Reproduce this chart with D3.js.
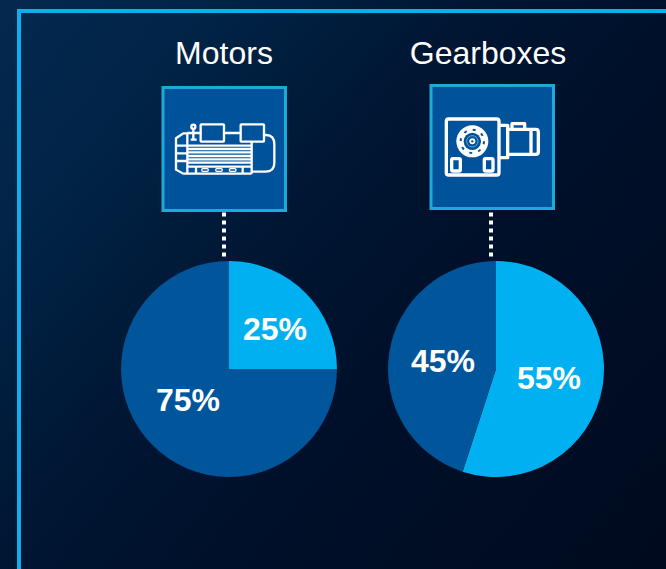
<!DOCTYPE html>
<html>
<head>
<meta charset="utf-8">
<script src="https://cdn.jsdelivr.net/npm/d3@7"></script>
<style>
html,body{margin:0;padding:0;background:#000c20;overflow:hidden}
svg{display:block}
text{font-family:"Liberation Sans",Arial,sans-serif;fill:#fff}
</style>
</head>
<body>
<svg id="c" width="666" height="569"></svg>
<script>
// Data
const titles = ["Motors", "Gearboxes"];
const motorsValues = [25, 75];
const gearboxesValues = [55, 45];

// Layout (not data)
const W = 666, H = 569;
const colors = ["#00b0f0", "#00559b"];
const charts = [
  {title: titles[0], values: motorsValues, cx: 229, cy: 369, r: 108, tx: 224, box: [161.5, 86, 125.5, 126], lineX: 224,
   labels: [[46, -40], [-41, 31]], icon: "motor", iconO: [150, 75]},
  {title: titles[1], values: gearboxesValues, cx: 496, cy: 369, r: 108, tx: 488, box: [429.5, 84, 125.5, 126], lineX: 491,
   labels: [[53, 9], [-53, -8]], icon: "gearbox", iconO: [420, 75]}
];

const svg = d3.select("#c");
const defs = svg.append("defs");
const g = defs.append("linearGradient").attr("id", "bg")
  .attr("gradientUnits", "userSpaceOnUse")
  .attr("x1", 0).attr("y1", 0).attr("x2", W).attr("y2", H);
[[0, "#04294f"], [0.18, "#012447"], [0.42, "#001633"], [0.6, "#00102a"], [1, "#000a1e"]].forEach(s =>
  g.append("stop").attr("offset", s[0]).attr("stop-color", s[1]));
svg.append("rect").attr("width", W).attr("height", H).attr("fill", "url(#bg)");

// Frame
svg.append("path").attr("d", "M19,569V11H666").attr("fill", "none")
  .attr("stroke", "#0cb0ee").attr("stroke-width", 4);

const pie = d3.pie().sort(null).value(d => d);

function motorIcon(s) {
  const st = sel => sel.attr("fill", "none").attr("stroke", "#fff").attr("stroke-width", 7);
  [[152,148,70,52],[272,148,70,52]].forEach(r =>
    st(s.append("rect")).attr("x", r[0]).attr("y", r[1]).attr("width", r[2]).attr("height", r[3]).attr("rx", 2));
  st(s.append("circle")).attr("cx", 130).attr("cy", 155).attr("r", 6);
  st(s.append("path")).attr("d",
    "M222,174H272M112,174H152M130,161V194M122,194H140" +
    "M78,190L100,175H112V296H100L78,284ZM78,212H110M78,235H110M78,258H110" +
    "M110,212H302M110,222H302M110,232H302M110,243H302M110,253H302M110,263H302M110,275H305M112,296H305" +
    "M138,275V296M278,275V296M305,200V296" +
    "M342,180H348Q373,180 373,208V264Q373,290 346,290H305");
  [165,207,248].forEach(x =>
    st(s.append("rect")).attr("x", x-10).attr("y", 281).attr("width", 20).attr("height", 8).attr("rx", 4).attr("stroke-width", 4));
}

function gearboxIcon(s) {
  const blue = "#00539b";
  const st = sel => sel.attr("fill", "none").attr("stroke", "#fff").attr("stroke-width", 10).attr("stroke-linejoin", "round");
  st(s.append("rect")).attr("x", 79).attr("y", 132).attr("width", 158).attr("height", 168).attr("rx", 7);
  s.append("circle").attr("cx", 157).attr("cy", 199).attr("r", 48).attr("fill", "#fff");
  s.append("circle").attr("cx", 157).attr("cy", 199).attr("r", 35).attr("fill", "none")
    .attr("stroke", blue).attr("stroke-width", 6).attr("stroke-dasharray", "9 18.5");
  s.append("circle").attr("cx", 157).attr("cy", 199).attr("r", 26).attr("fill", blue);
  s.append("circle").attr("cx", 157).attr("cy", 199).attr("r", 17).attr("fill", "none")
    .attr("stroke", "#a8cbe6").attr("stroke-width", 2);
  s.append("circle").attr("cx", 157).attr("cy", 199).attr("r", 9).attr("fill", "#fff");
  s.append("circle").attr("cx", 157).attr("cy", 199).attr("r", 3.5).attr("fill", blue);
  [[95,251],[193,251]].forEach(p =>
    st(s.append("rect")).attr("x", p[0]).attr("y", p[1]).attr("width", 26).attr("height", 37).attr("rx", 4));
  st(s.append("path")).attr("d",
    "M240,151H263V248H240M263,163H347Q355,163 355,171V230Q355,238 347,238H263" +
    "M333,163V238M276,161V146H314V161");
}

charts.forEach(c => {
  svg.append("text").attr("x", c.tx).attr("y", 64).attr("text-anchor", "middle")
    .attr("font-size", 32).attr("fill", "#fff").text(c.title);

  svg.append("line").attr("x1", c.lineX).attr("x2", c.lineX).attr("y1", 212.5).attr("y2", 260)
    .attr("stroke", "#fff").attr("stroke-width", 4).attr("stroke-dasharray", "4 4");

  svg.append("rect").attr("x", c.box[0]+1.5).attr("y", c.box[1]+1.5)
    .attr("width", c.box[2]-3).attr("height", c.box[3]-3)
    .attr("fill", "#00539b").attr("stroke", "#1cabd8").attr("stroke-width", 3);

  const icon = svg.append("g")
    .attr("transform", `translate(${c.iconO[0]},${c.iconO[1]}) scale(${1/3})`);
  (c.icon === "motor" ? motorIcon : gearboxIcon)(icon);

  const arc = d3.arc().innerRadius(0).outerRadius(c.r);
  const p = svg.append("g").attr("transform", `translate(${c.cx},${c.cy})`);
  const arcs = pie(c.values);
  p.selectAll("path").data(arcs).join("path")
    .attr("d", arc).attr("fill", (d, i) => colors[i]);
  p.selectAll("text").data(arcs).join("text")
    .attr("x", (d, i) => c.labels[i][0]).attr("y", (d, i) => c.labels[i][1])
    .attr("dy", "0.35em").attr("text-anchor", "middle")
    .attr("font-size", 32).attr("font-weight", "bold").attr("fill", "#fff")
    .text(d => d.value + "%");
});
</script>
</body>
</html>
